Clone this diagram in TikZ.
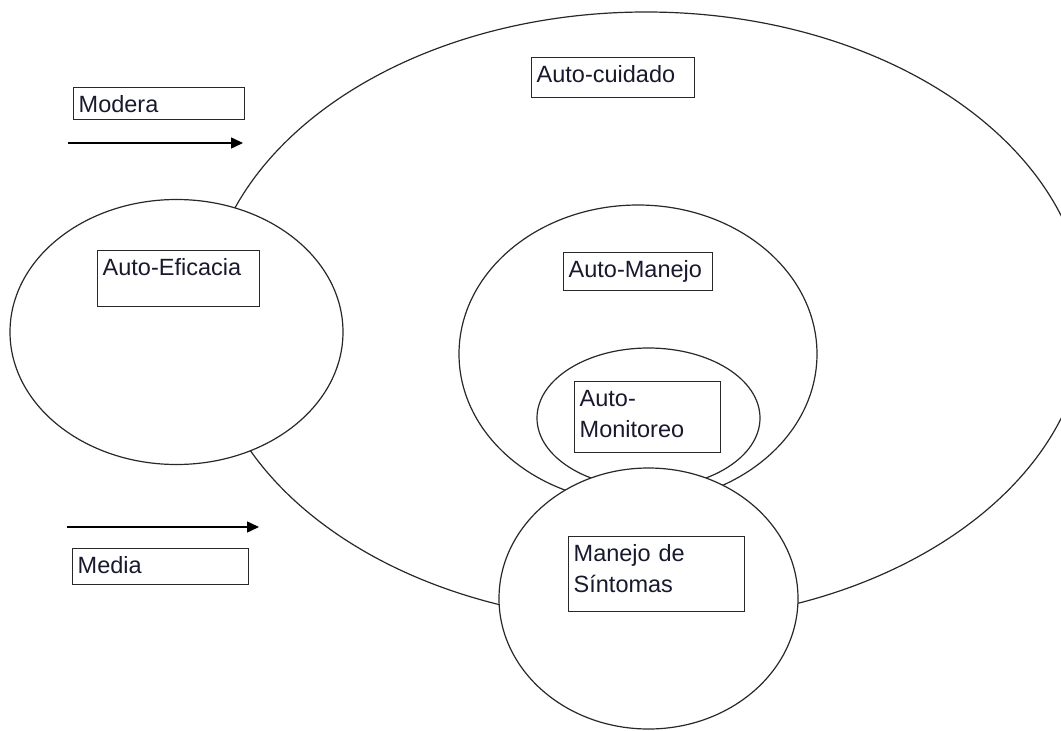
\documentclass[tikz,border=0pt]{standalone}
\usepackage{fontspec}
\setmainfont{Liberation Sans}
\usetikzlibrary{arrows.meta}
\definecolor{textcol}{RGB}{25,25,45}
\definecolor{linecol}{RGB}{40,40,40}
\tikzset{
    box/.style n args={2}{draw=linecol, line width=1.4pt, anchor=north west,
        inner xsep=5pt, inner ysep=0pt, text width=#1, text height=25pt, text depth=#2,
        align=left, text=textcol, font=\fontsize{23.5}{31}\selectfont},
    oval/.style={draw=linecol, line width=1.2pt, fill=white},
}
\begin{document}
\begin{tikzpicture}[x=1pt, y=-1pt]
    \useasboundingbox (0,0) rectangle (1061,731);
    \clip (0,0) rectangle (1061,731);

    \coordinate (Cuidado) at (646, 317);
    \coordinate (Eficacia) at (176.5, 332);
    \coordinate (Manejo) at (638, 354);
    \coordinate (Monitoreo) at (648.5, 418);
    \coordinate (Sintomas) at (648.5, 598.5);

    \coordinate (ModeraA) at (68, 143);
    \coordinate (ModeraB) at (243, 143);
    \coordinate (MediaA) at (67, 527);
    \coordinate (MediaB) at (259, 527);

    \foreach \c/\rx/\ry in {Cuidado/440/305, Eficacia/166.5/132.5, Manejo/179/149, Monitoreo/111.5/70, Sintomas/149.5/130.5} {
        \draw[oval] (\c) ellipse [x radius=\rx, y radius=\ry];
    }

    \draw[line width=1.5pt, -{Triangle[length=12pt, width=11pt]}] (ModeraA) -- (ModeraB);
    \draw[line width=1.5pt, -{Triangle[length=12pt, width=11pt]}] (MediaA) -- (MediaB);

    \node (cuidado) at (531, 57) [box={153pt}{15pt}] {Auto-cuidado};
    \node (modera) at (73, 87) [box={161pt}{7pt}] {Modera};
    \node (eficacia) at (97, 250) [box={152pt}{31pt}] {Auto-Eficacia};
    \node (manejo) at (563, 252) [box={139pt}{13pt}] {Auto-Manejo};
    \node (monitoreo) at (574, 381) [box={136pt}{46pt}] {Auto-\\Monitoreo};
    \node (sintomas) at (568, 536) [box={166pt}{50pt}] {Manejo de\\Síntomas};
    \node (media) at (72, 548) [box={166pt}{11pt}] {Media};

\end{tikzpicture}
\end{document}
